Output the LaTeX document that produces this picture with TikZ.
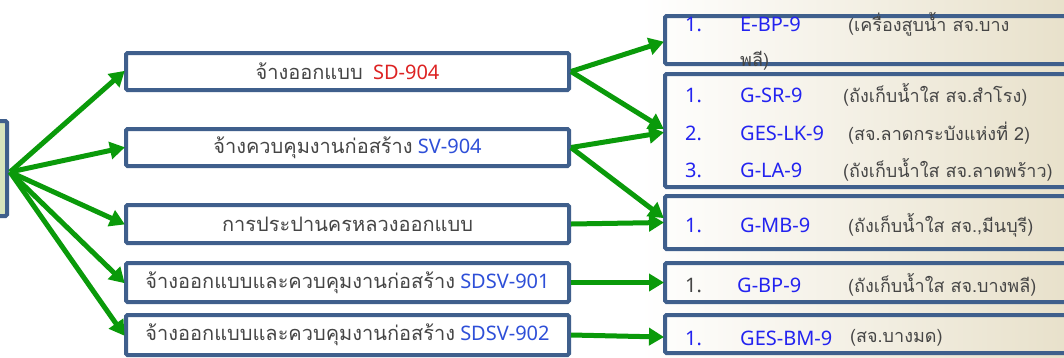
\documentclass[tikz,border=0pt]{standalone}
\usepackage{fontspec}
\setmainfont{Noto Sans}
\newfontfamily\thaif[Script=Thai]{Loma}
\usetikzlibrary{arrows.meta}
\definecolor{bord}{HTML}{3F5F8C}
\definecolor{arr}{HTML}{0A9A0A}
\definecolor{txt}{HTML}{454545}
\definecolor{blu}{HTML}{2E4FD8}
\definecolor{bblu}{HTML}{2323F0}
\definecolor{rd}{HTML}{DD2222}
\definecolor{lgreen}{HTML}{D7E4BD}
\definecolor{bg}{HTML}{E8E1CB}
\newcommand{\tht}[1]{{\thaif #1}}
\tikzset{
  box/.style={draw=bord, line width=4pt, rounded corners=1.5pt, inner sep=0pt},
  mtext/.style={font=\fontsize{20}{24}\selectfont, text=txt},
  rtext/.style={font=\fontsize{20}{24}\selectfont, anchor=west, inner sep=0pt},
  rthai/.style={font=\fontsize{18}{22}\selectfont\thaif, anchor=west, inner sep=0pt, text=txt},
  arrow/.style={draw=arr, line width=5pt, -{Triangle[length=15pt,width=17pt]}, shorten >=-1pt}
}
\begin{document}
\begin{tikzpicture}[x=1pt,y=-1pt]
\useasboundingbox (0,0) rectangle (1064,357);
\clip (0,0) rectangle (1064,357);
\fill[white] (0,0) rectangle (1064,357);
\shade[left color=white, right color=bg] (640,0) rectangle (1064,357);
% left box
\node[box, fill=lgreen, minimum width=30pt, minimum height=95pt] (L) at (-8,168.5) {};
% middle boxes
\node[box, fill=white, minimum width=443pt, minimum height=37pt] (m1) at (347.5,71.5) {};
\node[mtext] (t1) at (m1) {\tht{จ้างออกแบบ}\ \ \textcolor{rd}{SD-904}};
\node[box, fill=white, minimum width=443pt, minimum height=37pt] (m2) at (347.5,147.5) {};
\node[mtext] (t2) at (m2) {\tht{จ้างควบคุมงานก่อสร้าง} \textcolor{blu}{SV-904}};
\node[box, fill=white, minimum width=443pt, minimum height=38pt] (m3) at (347.5,224) {};
\node[mtext] (t3) at (m3) {\tht{การประปานครหลวงออกแบบ}};
\node[box, fill=white, minimum width=443pt, minimum height=39pt] (m4) at (347.5,282.5) {};
\node[mtext] (t4) at (m4) {\tht{จ้างออกแบบและควบคุมงานก่อสร้าง} \textcolor{blu}{SDSV-901}};
\node[box, fill=white, minimum width=443pt, minimum height=40pt] (m5) at (347.5,335) {};
\node[mtext] (t5) at (m5) {\tht{จ้างออกแบบและควบคุมงานก่อสร้าง} \textcolor{blu}{SDSV-902}};
% right boxes
\node[box, minimum width=415pt, minimum height=48pt] (r1) at (872.5,40) {};
\node[box, minimum width=415pt, minimum height=113pt] (r2) at (872.5,130.5) {};
\node[box, minimum width=415pt, minimum height=53pt] (r3) at (872.5,222.5) {};
\node[box, minimum width=415pt, minimum height=39pt] (r4) at (872.5,282.5) {};
\node[box, minimum width=415pt, minimum height=38pt] (r5) at (872.5,334) {};
% right texts
\node[rtext, text=bblu] (a1n) at (685,24) {1.};
\node[rtext, text=bblu] (a1c) at (740,24) {E-BP-9};
\node[rthai] (a1t) at (848,24) {(เครื่องสูบน้ำ สจ.บาง};
\node[rthai] (a1u) at (740,61) {พลี)};
\node[rtext, text=bblu] (b1n) at (685,95) {1.};
\node[rtext, text=bblu] (b1c) at (740,95) {G-SR-9};
\node[rthai] (b1t) at (843,95) {(ถังเก็บน้ำใส สจ.สำโรง)};
\node[rtext, text=bblu] (b2n) at (685,133) {2.};
\node[rtext, text=bblu] (b2c) at (740,133) {GES-LK-9};
\node[rthai] (b2t) at (848,133) {(สจ.ลาดกระบังแห่งที่ 2)};
\node[rtext, text=bblu] (b3n) at (685,170) {3.};
\node[rtext, text=bblu] (b3c) at (740,170) {G-LA-9};
\node[rthai] (b3t) at (843,170) {(ถังเก็บน้ำใส สจ.ลาดพร้าว)};
\node[rtext, text=bblu] (c1n) at (685,225) {1.};
\node[rtext, text=bblu] (c1c) at (740,225) {G-MB-9};
\node[rthai] (c1t) at (848,225) {(ถังเก็บน้ำใส สจ.,มีนบุรี)};
\node[rtext, text=txt] (d1n) at (685,285) {1.};
\node[rtext, text=bblu] (d1c) at (737,285) {G-BP-9};
\node[rthai] (d1t) at (848,285) {(ถังเก็บน้ำใส สจ.บางพลี)};
\node[rtext, text=bblu] (e1n) at (685,338) {1.};
\node[rtext, text=bblu] (e1c) at (740,338) {GES-BM-9};
\node[rthai] (e1t) at (850,338) {(สจ.บางมด)};
% arrows left
\coordinate (Lo) at ([xshift=1pt,yshift=-3.5pt]L.east);
\foreach \m in {m1,m2,m3,m4,m5} \draw[arrow] (Lo) -- (\m.west);
% arrows middle to right
\draw[arrow] (m1.east) -- ([yshift=-2pt]r1.west);
\draw[arrow] (m1.east) -- ([yshift=2pt]r2.west);
\draw[arrow] (m2.east) -- ([yshift=-2pt]r2.west);
\draw[arrow] (m2.east) -- ([yshift=5pt]r3.west);
\draw[arrow] (m3.east) -- (r3.west);
\draw[arrow] (m4.east) -- (r4.west);
\draw[arrow] (m5.east) -- ([yshift=-3pt]r5.west);
\end{tikzpicture}
\end{document}
